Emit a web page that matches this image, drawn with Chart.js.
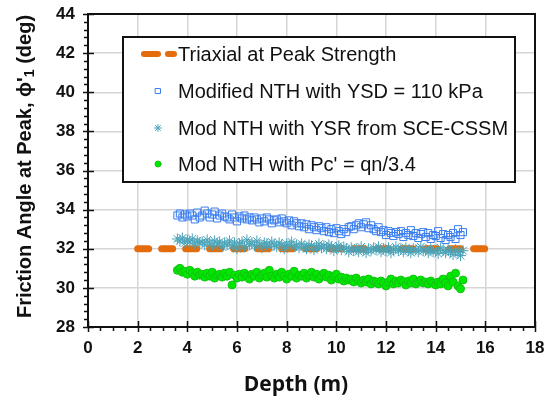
<!DOCTYPE html>
<html>
<head>
<meta charset="utf-8">
<script src="https://cdn.jsdelivr.net/npm/chart.js@4.4.1/dist/chart.umd.min.js"></script>
<style>
  html, body { margin: 0; padding: 0; background: #fff; }
  #wrap { width: 547px; height: 400px; }
</style>
</head>
<body>
<div id="wrap"><canvas id="frictionChart" width="547" height="400"></canvas></div>
<script>
// depth of each test point (m)
const depths = [
  3.6, 3.7, 3.8, 3.9, 4.0, 4.1, 4.2, 4.3, 4.4, 4.5,
  4.6, 4.7, 4.8, 4.9, 5.0, 5.1, 5.2, 5.3, 5.4, 5.5,
  5.6, 5.7, 5.8, 5.9, 6.0, 6.1, 6.2, 6.3, 6.4, 6.5,
  6.6, 6.7, 6.8, 6.9, 7.0, 7.1, 7.2, 7.3, 7.4, 7.5,
  7.6, 7.7, 7.8, 7.9, 8.0, 8.1, 8.2, 8.3, 8.4, 8.5,
  8.6, 8.7, 8.8, 8.9, 9.0, 9.1, 9.2, 9.3, 9.4, 9.5,
  9.6, 9.7, 9.8, 9.9, 10.0, 10.1, 10.2, 10.3, 10.4, 10.5,
  10.6, 10.7, 10.8, 10.9, 11.0, 11.1, 11.2, 11.3, 11.4, 11.5,
  11.6, 11.7, 11.8, 11.9, 12.0, 12.1, 12.2, 12.3, 12.4, 12.5,
  12.6, 12.7, 12.8, 12.9, 13.0, 13.1, 13.2, 13.3, 13.4, 13.5,
  13.6, 13.7, 13.8, 13.9, 14.0, 14.1, 14.2, 14.3, 14.4, 14.5,
  14.6, 14.7, 14.8, 14.9, 15.0, 15.1
];

// Modified NTH, YSD = 110 kPa
const phiYSD = [
  33.7, 33.8, 33.6, 33.75, 33.65, 33.8, 33.7, 33.5, 33.85, 33.6,
  33.7, 33.95, 33.8, 33.6, 33.75, 33.9, 33.55, 33.7, 33.8, 33.65,
  33.6, 33.5, 33.75, 33.6, 33.4, 33.65, 33.55, 33.7, 33.5, 33.6,
  33.45, 33.6, 33.5, 33.35, 33.55, 33.4, 33.6, 33.5, 33.3, 33.45,
  33.5, 33.35, 33.55, 33.4, 33.3, 33.45, 33.2, 33.4, 33.3, 33.15,
  33.3, 33.1, 33.25, 33.0, 33.2, 33.1, 32.95, 33.15, 33.05, 32.9,
  33.1, 32.85, 33.0, 32.8, 33.05, 32.9, 32.75, 33.0, 32.85, 33.1,
  33.15, 33.0, 33.2, 33.3, 33.1, 33.25, 33.35, 33.05, 33.2, 33.0,
  32.9, 33.1, 32.85, 32.95, 32.7, 32.9, 32.8, 32.65, 32.85, 32.75,
  32.9, 32.6, 32.8, 32.7, 32.95, 32.65, 32.8, 32.55, 32.75, 32.85,
  32.6, 32.8, 32.5, 32.7, 32.65, 32.9, 32.55, 32.75, 32.45, 32.7,
  32.6, 32.8, 32.5, 33.0, 32.7, 32.85
];

// Mod NTH, YSR from SCE-CSSM
const phiYSR = [
  32.5, 32.4, 32.55, 32.3, 32.45, 32.35, 32.5, 32.25, 32.4, 32.3,
  32.35, 32.2, 32.45, 32.3, 32.15, 32.4, 32.25, 32.35, 32.1, 32.3,
  32.2, 32.4, 32.15, 32.3, 32.0, 32.25, 32.35, 32.1, 32.45, 32.2,
  32.3, 32.15, 32.4, 32.2, 32.05, 32.3, 32.25, 32.1, 32.35, 32.2,
  32.1, 32.3, 32.2, 32.0, 32.25, 32.15, 32.35, 32.1, 32.2, 32.05,
  32.25, 32.1, 32.0, 32.2, 32.15, 31.95, 32.1, 32.25, 32.05, 32.15,
  32.0, 32.2, 32.1, 31.9, 32.05, 32.15, 31.95, 32.1, 32.0, 31.85,
  32.05, 31.9, 32.0, 31.85, 32.1, 31.95, 31.8, 32.0, 31.9, 32.05,
  31.95, 32.1, 31.85, 32.0, 31.9, 32.05, 31.8, 31.95, 32.1, 31.9,
  32.0, 31.85, 32.05, 31.9, 31.8, 32.0, 31.95, 31.85, 32.1, 31.9,
  31.95, 31.8, 32.0, 31.85, 31.9, 31.75, 32.05, 31.9, 31.8, 31.95,
  31.85, 31.7, 31.95, 31.8, 31.65, 31.9
];

// Mod NTH, Pc' = qn/3.4
const phiPc = [
  30.9, 31.0, 30.8, 30.85, 30.7, 30.9, 30.75, 30.6, 30.8, 30.65,
  30.7, 30.55, 30.75, 30.6, 30.8, 30.5, 30.65, 30.7, 30.55, 30.75,
  30.6, 30.8, 30.15, 30.65, 30.5, 30.7, 30.55, 30.75, 30.6, 30.45,
  30.7, 30.6, 30.8, 30.5, 30.65, 30.75, 30.55, 30.9, 30.6, 30.5,
  30.7, 30.55, 30.8, 30.6, 30.45, 30.7, 30.6, 30.85, 30.5, 30.65,
  30.6, 30.75, 30.5, 30.65, 30.8, 30.55, 30.7, 30.45, 30.6, 30.75,
  30.55, 30.65, 30.4, 30.6, 30.7, 30.45, 30.55, 30.35, 30.5, 30.4,
  30.45, 30.3, 30.5, 30.35, 30.25, 30.4, 30.3, 30.45, 30.2, 30.35,
  30.3, 30.2, 30.35, 30.25, 30.1, 30.3, 30.45, 30.2, 30.35, 30.25,
  30.4, 30.3, 30.15, 30.35, 30.25, 30.45, 30.2, 30.3, 30.4, 30.25,
  30.3, 30.2, 30.35, 30.25, 30.15, 30.3, 30.2, 30.45, 30.25, 30.1,
  30.6, 30.3, 30.75, 30.1, 29.95, 30.4
];

// triaxial reference value, drawn across this depth span
const triaxialDepths = [2, 16];
const triaxialPhi = [32, 32];

const xTicks = { min: 0, max: 18, step: 2, minor: 0.5 };
const yTicks = { min: 28, max: 44, step: 2, minor: 0.4 };

const pts = (xs, ys) => xs.map((x, i) => ({ x: x, y: ys[i] }));

// axis frame, crossing major ticks and outside minor ticks
const framePlugin = {
  id: 'frame',
  afterDraw(chart) {
    const { ctx, chartArea: a, scales: { x, y } } = chart;
    ctx.save();
    ctx.strokeStyle = '#111';
    ctx.lineWidth = 2;
    ctx.beginPath();
    ctx.moveTo(a.left, a.top); ctx.lineTo(a.right, a.top); ctx.lineTo(a.right, a.bottom);
    ctx.stroke();
    ctx.lineWidth = 1.5;
    ctx.beginPath();
    for (let v = yTicks.min; v <= yTicks.max + 1e-6; v += yTicks.minor) {
      const py = Math.round(y.getPixelForValue(v)) + 0.5;
      const major = Math.abs(v / yTicks.step - Math.round(v / yTicks.step)) < 1e-6;
      ctx.moveTo(a.left - (major ? 5 : 4), py);
      ctx.lineTo(a.left + (major ? 6 : 0), py);
    }
    for (let v = xTicks.min; v <= xTicks.max + 1e-6; v += xTicks.minor) {
      const px = Math.round(x.getPixelForValue(v)) + 0.5;
      const major = Math.abs(v / xTicks.step - Math.round(v / xTicks.step)) < 1e-6;
      ctx.moveTo(px, a.bottom + (major ? 5 : 4));
      ctx.lineTo(px, a.bottom - (major ? 6 : 0));
    }
    ctx.stroke();
    ctx.restore();
  }
};

// axis titles
const titlesPlugin = {
  id: 'titles',
  afterDraw(chart) {
    const { ctx, chartArea: a } = chart;
    ctx.save();
    ctx.fillStyle = '#111';
    ctx.textBaseline = 'middle';
    ctx.textAlign = 'center';
    ctx.font = 'bold 21px "Open Sans"';
    ctx.fillText('Depth (m)', a.left + 208, 385);

    // y title with subscript 1
    const main = 'Friction Angle at Peak, \u03D5\'';
    const tail = ' (deg)';
    const big = 'bold 20px "Liberation Sans"';
    const small = 'bold 14px "Liberation Sans"';
    ctx.font = big;
    const w1 = ctx.measureText(main).width;
    const w3 = ctx.measureText(tail).width;
    ctx.font = small;
    const w2 = ctx.measureText('1').width;
    const total = w1 + w2 + w3;
    ctx.translate(25, (a.top + a.bottom) / 2 - 4);
    ctx.rotate(-Math.PI / 2);
    ctx.textAlign = 'left';
    let cx = -total / 2;
    ctx.font = big;
    ctx.fillText(main, cx, 0);
    cx += w1;
    ctx.font = small;
    ctx.fillText('1', cx, 5);
    cx += w2;
    ctx.font = big;
    ctx.fillText(tail, cx, 0);
    ctx.restore();
  }
};

// boxed legend inside the plot
const legendPlugin = {
  id: 'boxLegend',
  afterDraw(chart) {
    const { ctx, chartArea: a } = chart;
    const left = a.left + 35, top = a.top + 23, right = a.right - 20, bottom = a.top + 168;
    ctx.save();
    ctx.fillStyle = '#fff';
    ctx.fillRect(left, top, right - left, bottom - top);
    ctx.strokeStyle = '#111';
    ctx.lineWidth = 2;
    ctx.strokeRect(left, top, right - left, bottom - top);

    const rows = [top + 17, top + 54, top + 91, top + 127];
    const symX = left + 35;
    const textX = left + 55;
    ctx.font = '20px "Liberation Sans"';
    ctx.textBaseline = 'middle';
    ctx.textAlign = 'left';
    chart.data.datasets.forEach((ds, i) => {
      const yy = rows[i];
      if (ds.type === 'line') {
        ctx.strokeStyle = ds.borderColor;
        ctx.lineWidth = 6;
        ctx.lineCap = 'round';
        ctx.beginPath();
        ctx.moveTo(left + 21, yy); ctx.lineTo(left + 35, yy);
        ctx.moveTo(left + 45, yy); ctx.lineTo(left + 51, yy);
        ctx.stroke();
      } else {
        ctx.strokeStyle = ds.borderColor;
        ctx.fillStyle = ds.backgroundColor;
        ctx.lineWidth = ds.borderWidth;
        Chart.helpers.drawPoint(ctx, { pointStyle: ds.pointStyle, radius: ds.legendRadius, rotation: 0, borderWidth: ds.borderWidth }, symX, yy);
      }
      ctx.fillStyle = '#111';
      ctx.fillText(ds.label, textX, yy + 1);
    });
    ctx.restore();
  }
};

const tickFont = { family: '"Liberation Sans"', size: 17, weight: 'bold' };

new Chart(document.getElementById('frictionChart'), {
  type: 'scatter',
  data: {
    datasets: [
      {
        type: 'line', label: 'Triaxial at Peak Strength',
        data: pts(triaxialDepths, triaxialPhi),
        borderColor: '#e46c0a', borderWidth: 7, borderDash: [11, 13], borderCapStyle: 'round',
        pointRadius: 0, fill: false, order: 1
      },
      {
        label: 'Modified NTH with YSD = 110 kPa',
        data: pts(depths, phiYSD),
        pointStyle: 'rect', pointRadius: 5, legendRadius: 3.5,
        borderColor: '#3a7ef0', backgroundColor: 'rgba(0,0,0,0)', borderWidth: 1
      },
      {
        label: 'Mod NTH with YSR from SCE-CSSM',
        data: pts(depths, phiYSR),
        pointStyle: 'star', pointRadius: 5.5, legendRadius: 3.5,
        borderColor: '#4aa3b8', backgroundColor: 'rgba(0,0,0,0)', borderWidth: 1
      },
      {
        label: "Mod NTH with Pc' = qn/3.4",
        data: pts(depths, phiPc),
        pointStyle: 'circle', pointRadius: 4, legendRadius: 3,
        borderColor: '#14c014', backgroundColor: '#00e800', borderWidth: 1
      }
    ]
  },
  options: {
    responsive: false, animation: false,
    layout: { padding: { top: 14, right: 12, left: 0, bottom: 0 } },
    plugins: { legend: { display: false }, tooltip: { enabled: false } },
    scales: {
      x: {
        type: 'linear', min: xTicks.min, max: xTicks.max,
        ticks: { stepSize: xTicks.step, font: tickFont, color: '#111', padding: 11, maxRotation: 0 },
        grid: { color: '#d6d6d6', lineWidth: 1.5, drawTicks: false },
        border: { color: '#111', width: 2 },
        afterFit: s => { s.height = 73; s.paddingLeft = 0; s.paddingRight = 0; }
      },
      y: {
        min: yTicks.min, max: yTicks.max,
        ticks: { stepSize: yTicks.step, font: tickFont, color: '#111', padding: 13 },
        grid: { color: '#d6d6d6', lineWidth: 1.5, drawTicks: false },
        border: { color: '#111', width: 2 },
        afterFit: s => { s.width = 88; s.paddingTop = 0; s.paddingBottom = 0; }
      }
    }
  },
  plugins: [framePlugin, titlesPlugin, legendPlugin]
});
</script>
</body>
</html>
